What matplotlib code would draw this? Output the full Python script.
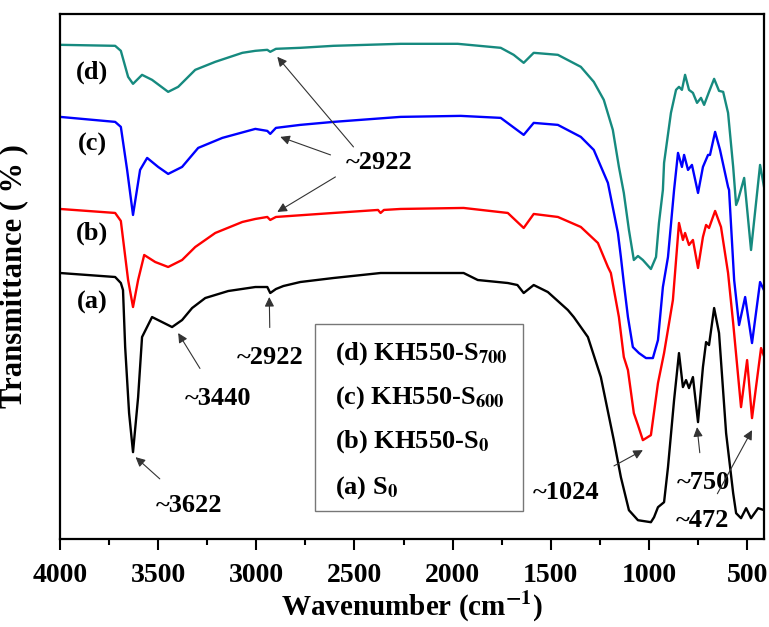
import matplotlib
matplotlib.use("Agg")
import matplotlib.pyplot as plt
from matplotlib.patches import Rectangle

plt.rcParams['font.family'] = ['Liberation Serif', 'DejaVu Serif']
plt.rcParams['font.weight'] = 'bold'
plt.rcParams['axes.labelweight'] = 'bold'
plt.rcParams['mathtext.fontset'] = 'stix'

# (a) S0
wn_a = [4000, 3719, 3690, 3679, 3668, 3648, 3628, 3602, 3582, 3531, 3480, 3429, 3378,
        3327, 3260, 3143, 3005, 2944, 2929, 2900, 2862, 2776, 2607, 2367, 2265, 1944,
        1872, 1719, 1670, 1638, 1587, 1515, 1413, 1383, 1311, 1245, 1179, 1143, 1102,
        1056, 990, 974, 954, 923, 903, 872, 847, 827, 811, 796, 776, 750, 725, 709, 694,
        668, 643, 607, 571, 556, 531, 505, 480, 444, 412]
t_a = [266, 262, 256, 249, 192, 126, 87, 142, 202, 222, 217, 212, 219,
       231, 241, 248, 252, 252, 246, 250, 253, 257, 261, 266, 266, 266,
       259, 256, 254, 246, 254, 247, 229, 222, 202, 162, 99, 62, 29,
       19, 17, 22, 32, 37, 72, 139, 186, 152, 159, 151, 162, 117, 172, 197, 194,
       231, 206, 106, 46, 26, 21, 31, 21, 31, 29]

# (b) KH550-S0
wn_b = [4000, 3719, 3690, 3653, 3628, 3602, 3571, 3515, 3449, 3378, 3311, 3209, 3071,
        3005, 2944, 2929, 2900, 2607, 2380, 2367, 2350, 2265, 1944, 1719, 1638, 1587,
        1464, 1347, 1260, 1209, 1194, 1153, 1128, 1107, 1077, 1056, 1031, 990, 954, 923,
        878, 847, 827, 816, 796, 776, 750, 725, 709, 694, 663, 633, 597, 571, 531, 500,
        475, 429, 412]
t_b = [330, 326, 318, 259, 232, 259, 284, 277, 272, 279, 292, 306, 317,
       320, 322, 319, 322, 326, 329, 326, 329, 330, 331, 326, 311, 325,
       322, 312, 296, 272, 266, 222, 182, 169, 126, 114, 99, 104, 156, 186,
       239, 316, 299, 306, 294, 299, 271, 302, 314, 311, 328, 312, 266, 216, 132, 179,
       121, 191, 182]

# (c) KH550-S600
wn_c = [4000, 3719, 3690, 3658, 3628, 3592, 3556, 3500, 3449, 3378, 3296, 3173, 3005,
        2944, 2929, 2900, 2776, 2607, 2265, 1959, 1755, 1638, 1587, 1464, 1347, 1281,
        1209, 1158, 1143, 1128, 1107, 1082, 1051, 1015, 980, 954, 929, 903, 872, 852,
        832, 821, 801, 781, 750, 725, 699, 689, 663, 638, 597, 592, 566, 541, 510, 475,
        434, 412]
t_c = [422, 417, 412, 369, 324, 369, 381, 372, 365, 372, 391, 401, 410,
       408, 405, 411, 414, 417, 422, 423, 421, 404, 416, 414, 402, 389,
       356, 306, 282, 256, 222, 192, 186, 181, 181, 199, 252, 282, 349, 386,
       372, 384, 369, 374, 346, 372, 384, 384, 407, 389, 352, 349, 259, 214, 242, 196,
       257, 248]

# (d) KH550-S700
wn_d = [4000, 3719, 3690, 3653, 3628, 3582, 3531, 3449, 3398, 3311, 3209, 3071, 3005,
        2944, 2929, 2900, 2776, 2607, 2265, 1974, 1755, 1689, 1638, 1587, 1464, 1347,
        1281, 1230, 1184, 1153, 1128, 1102, 1077, 1056, 1031, 990, 964, 949, 929, 923,
        888, 862, 847, 832, 816, 796, 776, 755, 735, 719, 694, 668, 643, 622, 597, 571,
        556, 546, 515, 480, 434, 412]
t_d = [494, 493, 488, 462, 455, 464, 459, 447, 452, 469, 477, 486, 488,
       489, 487, 490, 491, 493, 495, 495, 491, 484, 476, 486, 484, 472,
       457, 439, 409, 372, 346, 309, 279, 283, 279, 270, 282, 316, 349, 376,
       426, 449, 452, 449, 464, 449, 446, 436, 441, 434, 447, 460, 448, 447, 426, 372,
       334, 339, 361, 289, 374, 350]

curve_tags = ['(d)', '(c)', '(b)', '(a)']
legend_labels = [r'(d) KH550-S$\mathbf{_{700}}$', r'(c) KH550-S$\mathbf{_{600}}$',
                 r'(b) KH550-S$\mathbf{_{0}}$', r'(a) S$\mathbf{_{0}}$']

fig = plt.figure(figsize=(7.69, 6.27), dpi=100)
ax = fig.add_axes([0.078, 0.140, 0.916, 0.838])

ax.plot(wn_a, t_a, color='black', lw=1.7)
ax.plot(wn_b, t_b, color='#ff0000', lw=1.7)
ax.plot(wn_c, t_c, color='#0000ff', lw=1.7)
ax.plot(wn_d, t_d, color='#168a7f', lw=1.7)

ax.set_xlim(4000, 412)
ax.set_ylim(0, 525)
ax.set_xticks([4000, 3500, 3000, 2500, 2000, 1500, 1000, 500])
ax.set_xticks(range(3750, 400, -500), minor=True)
ax.set_yticks([])
ax.tick_params(axis='x', which='major', direction='out', length=8, width=1.5,
               pad=9, labelsize=20)
ax.tick_params(axis='x', which='minor', direction='out', length=4.5, width=1.5)
for s in ax.spines.values():
    s.set_linewidth(1.6)

ax.set_xlabel(r'Wavenumber (cm$\mathbf{^{-1}}$)', fontsize=21)
ax.xaxis.set_label_coords(0.5, -0.093)
ax.set_ylabel('Transmittance ( % )', fontsize=22)
ax.yaxis.set_label_coords(-0.045, 0.5)

# curve tags
for tag, ty in zip(curve_tags, [467, 394, 306, 237]):
    ax.text(3837, ty, tag, fontsize=19, ha='center', va='center')

# peak annotations
arrow = dict(arrowstyle='-|>', color='#333333', lw=0.8, mutation_scale=14,
             shrinkA=0, shrinkB=0)
ax.text(2372, 376, '~2922', fontsize=19, ha='center', va='center')
ax.annotate('', xy=(2893, 482), xytext=(2505, 392), arrowprops=arrow)
ax.annotate('', xy=(2878, 402), xytext=(2622, 384), arrowprops=arrow)
ax.annotate('', xy=(2893, 327), xytext=(2597, 362), arrowprops=arrow)

ax.annotate('~2922', xy=(2934, 242), xytext=(2929, 182), fontsize=19,
            ha='center', va='center', arrowprops=dict(arrow, shrinkA=11))
ax.annotate('~3440', xy=(3398, 206), xytext=(3194, 141), fontsize=19,
            ha='center', va='center', arrowprops=dict(arrow, shrinkA=13))
ax.annotate('~3622', xy=(3615, 82), xytext=(3342, 34), fontsize=19,
            ha='center', va='center', arrowprops=dict(arrow, shrinkA=13))
ax.annotate('~1024', xy=(1031, 89), xytext=(1423, 47), fontsize=19,
            ha='center', va='center', arrowprops=dict(arrow, shrinkA=18))
ax.annotate('~750', xy=(755, 112), xytext=(725, 57), fontsize=19,
            ha='center', va='center', arrowprops=dict(arrow, shrinkA=11))
ax.annotate('~472', xy=(475, 109), xytext=(725, 19), fontsize=19,
            ha='center', va='center', arrowprops=dict(arrow, shrinkA=10))

# legend box
ax.add_patch(Rectangle((0.362, 0.053), 0.296, 0.357, transform=ax.transAxes,
                       facecolor='white', edgecolor='#777777', lw=1.0, zorder=5))
for lab, fy in zip(legend_labels, [0.354, 0.269, 0.185, 0.099]):
    ax.text(0.391, fy, lab, transform=ax.transAxes, fontsize=19,
            ha='left', va='center', zorder=6)

fig.savefig('out.png', dpi=100)
